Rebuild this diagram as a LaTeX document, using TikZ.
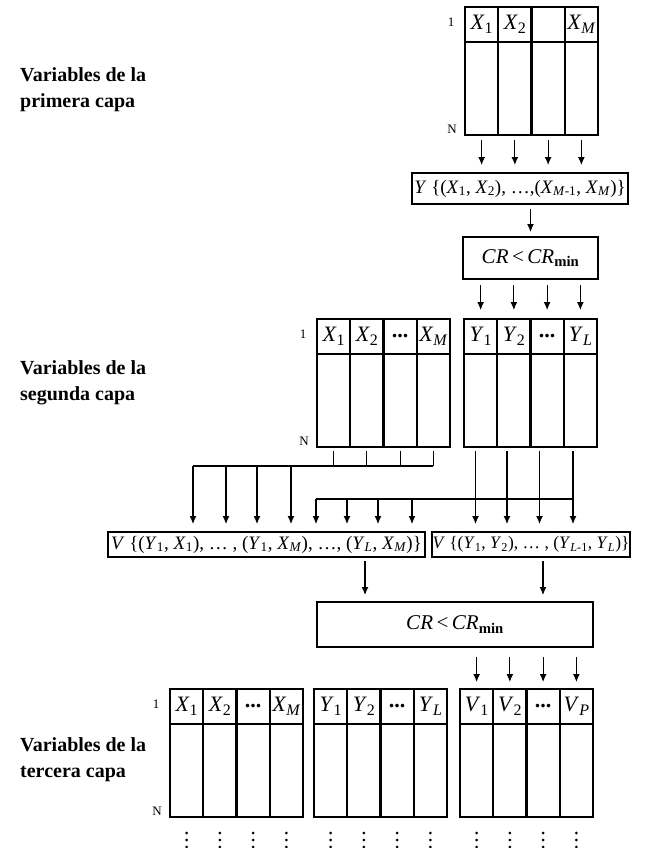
\documentclass[tikz,border=0pt]{standalone}
\usepackage{fontspec}
\setmainfont{Liberation Serif}
\usetikzlibrary{arrows.meta,calc}
\newcommand{\vr}[2]{\textit{#1}\textsubscript{#2}}
\newcommand{\hs}[2]{\textit{#1}\raisebox{-0.4ex}{\fontsize{16}{16}\selectfont #2}}
\newcommand{\tabla}[7]{%
  \node[hcell] (#1h1) at (#2,#3) {#4};
  \node[hcell] (#1h2) at (#1h1.north east) {#5};
  \node[hcell] (#1h3) at (#1h2.north east) {#6};
  \node[hcell] (#1h4) at (#1h3.north east) {#7};
  \foreach \i in {1,...,4} {\node[bcell] (#1b\i) at (#1h\i.south west) {};}
}
\newcommand{\rowmarks}[1]{%
  \node[rowlab] (#1one) at ([xshift=-14pt,yshift=-15pt]#1h1.north west) {1};
  \node[rowlab] (#1N) at ([xshift=-13pt,yshift=6pt]#1b1.south west) {N};
}
\begin{document}
\begin{tikzpicture}[x=1pt,y=-1pt,
  hcell/.style={draw, line width=2.2pt, inner sep=0pt, outer sep=0pt, minimum width=33.25pt, minimum height=35pt, anchor=north west, font=\fontsize{22}{22}\selectfont},
  bcell/.style={draw, line width=2.2pt, inner sep=0pt, outer sep=0pt, minimum width=33.25pt, minimum height=93pt, anchor=north west},
  fbox/.style={draw, line width=2.2pt, inner sep=0pt, outer sep=0pt, font=\fontsize{19}{19}\selectfont},
  arr/.style={-{Latex[length=8pt,width=7pt]}, line width=1.1pt, shorten >=8pt},
  wire/.style={line width=1.1pt},
  rowlab/.style={font=\fontsize{13}{13}\selectfont, inner sep=0pt},
  layerlab/.style={font=\bfseries\fontsize{20}{26}\selectfont, align=left, anchor=west, inner sep=0pt}]
\useasboundingbox (0,0) rectangle (663,848);

% layer labels
\node[layerlab] (lab1) at (20,90) {Variables de la\\primera capa};
\node[layerlab] (lab2) at (20,383) {Variables de la\\segunda capa};
\node[layerlab] (lab3) at (20,760) {Variables de la\\tercera capa};

% first layer
\tabla{a}{465}{7}{\hs{X}{1}}{\hs{X}{2}}{}{\hs{X}{\textit{M}}}
\rowmarks{a}

\node[fbox, minimum width=216pt, minimum height=31pt] (ybox) at (520,188.5)
  {\textit{Y} \{(\vr{X}{1}, \vr{X}{2}), \ldots,(\vr{X}{\textit{M}-1}, \vr{X}{\textit{M}})\}};
\node[fbox, minimum width=135pt, minimum height=42pt, font=\fontsize{21}{21}\selectfont] (cr) at (530.5,258)
  {\textit{CR}\,<\,\textit{CR}\textsubscript{\textbf{min}}};

\foreach \i in {1,...,4}
  \draw[arr, shorten <=5pt] (ab\i.south) -- (ybox.north -| ab\i.south);
\draw[arr, shorten <=5pt, shorten >=5pt] (ybox.south -| cr.north) -- (cr.north);

% second layer
\tabla{x}{317}{319}{\hs{X}{1}}{\hs{X}{2}}{\textbf{...}}{\hs{X}{\textit{M}}}
\rowmarks{x}
\tabla{y}{464}{319}{\hs{Y}{1}}{\hs{Y}{2}}{\textbf{...}}{\hs{Y}{\textit{L}}}

\foreach \i in {1,...,4}
  \draw[arr, shorten <=6pt, shorten >=9pt] (cr.south -| yh\i.north) -- (yh\i.north);

\node[fbox, minimum width=317pt, minimum height=25pt] (v1) at (266.5,544.5)
  {\textit{V} \{(\vr{Y}{1}, \vr{X}{1}), \ldots\ , (\vr{Y}{1}, \vr{X}{\textit{M}}), \ldots, (\vr{Y}{\textit{L}}, \vr{X}{\textit{M}})\}};
\node[fbox, minimum width=198pt, minimum height=25pt, font=\fontsize{17.5}{17.5}\selectfont] (v2) at (531,544.5)
  {\textit{V} \{(\vr{Y}{1}, \vr{Y}{2}), \ldots\ , (\vr{Y}{\textit{L}-1}, \vr{Y}{\textit{L}})\}};

% X fan-out
\coordinate (dA1) at (193,466);
\coordinate (dA2) at (226,466);
\coordinate (dA3) at (257,466);
\coordinate (dA4) at (291,466);
\draw[wire] (dA1) -- (dA1 -| xb4.south);
\foreach \i in {1,...,4} {
  \draw[wire, shorten <=4pt] (xb\i.south) -- (xb\i.south |- dA1);
  \draw[arr] (dA\i) -- (v1.north -| dA\i);
}
% Y fan-out
\coordinate (eB1) at (475.5,499);
\coordinate (eB2) at (507,499);
\coordinate (eB3) at (539.5,499);
\coordinate (eB4) at (573,499);
\coordinate (fB1) at (316,499);
\coordinate (fB2) at (347,499);
\coordinate (fB3) at (378,499);
\coordinate (fB4) at (412,499);
\draw[wire] (fB1) -- (eB4);
\foreach \i in {1,...,4} {
  \draw[arr, shorten <=4pt] (eB\i |- yb\i.south) -- (v2.north -| eB\i);
  \draw[arr] (fB\i) -- (v1.north -| fB\i);
}

% second CR
\node[fbox, minimum width=276pt, minimum height=45pt, font=\fontsize{21}{21}\selectfont] (cr2) at (455,624.5)
  {\textit{CR}\,<\,\textit{CR}\textsubscript{\textbf{min}}};
\coordinate (g1) at (365,580);
\coordinate (g2) at (543,580);
\draw[arr, shorten <=4pt, shorten >=7pt] (v1.south -| g1) -- (cr2.north -| g1);
\draw[arr, shorten <=4pt, shorten >=7pt] (v2.south -| g2) -- (cr2.north -| g2);

% third layer
\tabla{p}{170}{689}{\hs{X}{1}}{\hs{X}{2}}{\textbf{...}}{\hs{X}{\textit{M}}}
\rowmarks{p}
\tabla{q}{314}{689}{\hs{Y}{1}}{\hs{Y}{2}}{\textbf{...}}{\hs{Y}{\textit{L}}}
\tabla{r}{460}{689}{\hs{V}{1}}{\hs{V}{2}}{\textbf{...}}{\hs{V}{\textit{P}}}

\foreach \i in {1,...,4}
  \draw[arr, shorten <=10pt, shorten >=7pt] (cr2.south -| rh\i.north) -- (rh\i.north);

\foreach \t in {p,q,r}
  \foreach \i in {1,...,4}
    \foreach \d in {16,23,30}
      \fill ([yshift=-\d pt]\t b\i.south) circle (1.5pt);
\end{tikzpicture}
\end{document}
